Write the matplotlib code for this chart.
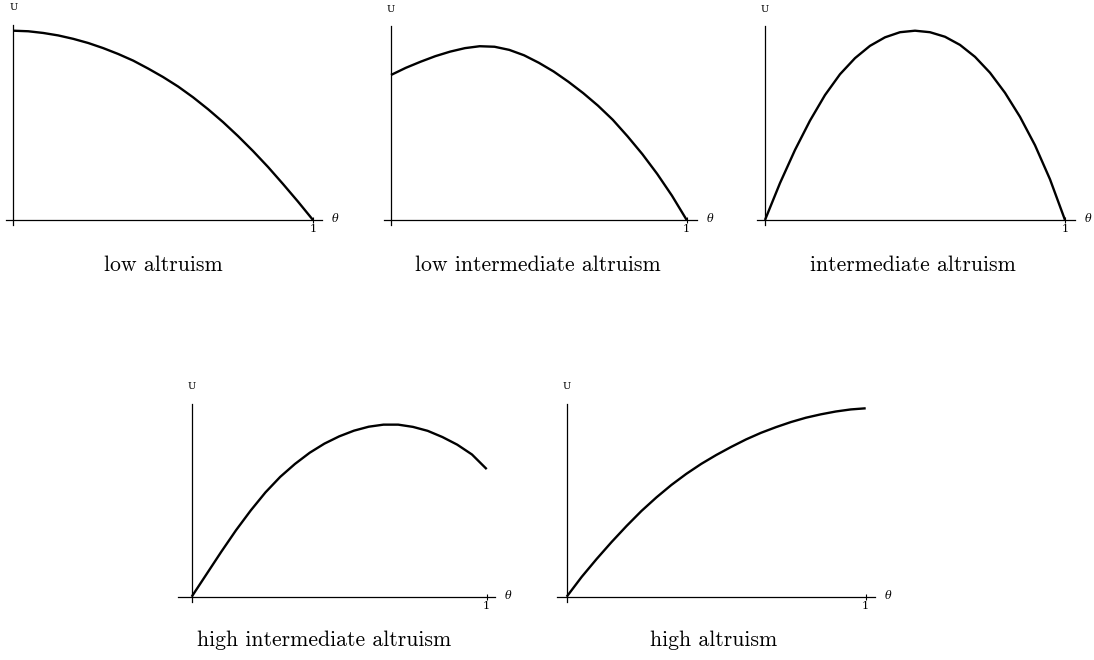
import matplotlib
matplotlib.use("Agg")
import matplotlib.pyplot as plt

# ---- data (theta, U) ----
theta = [0.0, 0.05, 0.10, 0.15, 0.20, 0.25, 0.30, 0.35, 0.40, 0.45, 0.50,
         0.55, 0.60, 0.65, 0.70, 0.75, 0.80, 0.85, 0.90, 0.95, 1.0]

u_low = [1.0, 0.997, 0.988, 0.975, 0.957, 0.935, 0.908, 0.877, 0.842, 0.80, 0.755,
         0.705, 0.648, 0.585, 0.517, 0.443, 0.364, 0.28, 0.19, 0.097, 0.0]

u_lowint = [0.832, 0.873, 0.908, 0.940, 0.966, 0.986, 0.997, 0.994, 0.976, 0.945, 0.902,
            0.852, 0.793, 0.728, 0.656, 0.575, 0.480, 0.378, 0.265, 0.14, 0.0]

u_int = [0.0, 0.195, 0.37, 0.525, 0.66, 0.77, 0.855, 0.92, 0.965, 0.992, 1.0,
         0.992, 0.968, 0.925, 0.862, 0.778, 0.672, 0.545, 0.395, 0.215, 0.0]

u_highint = [0.0, 0.13, 0.26, 0.385, 0.50, 0.605, 0.695, 0.77, 0.835, 0.888, 0.93,
             0.963, 0.986, 0.998, 0.998, 0.985, 0.962, 0.926, 0.882, 0.825, 0.74]

u_high = [0.0, 0.105, 0.20, 0.29, 0.375, 0.455, 0.527, 0.593, 0.652, 0.705, 0.752,
          0.795, 0.835, 0.87, 0.90, 0.927, 0.95, 0.968, 0.983, 0.994, 1.0]

captions = ["low altruism", "low intermediate altruism", "intermediate altruism",
            "high intermediate altruism", "high altruism"]

W, H = 1094, 660
fig = plt.figure(figsize=(W / 100, H / 100), dpi=100)

# layout in pixels: (x of theta=0, x of theta=1, y of U=0, px per U unit,
#                    x-axis left, x-axis right, y-axis top, y-axis bottom, caption center x, caption y)
layouts = [
    (13.3, 313.0, 220.0, 189.3, 6, 322, 25, 225, 163, 265),
    (391.0, 686.7, 220.0, 174.3, 384, 697, 26, 225, 538, 265),
    (765.0, 1065.0, 220.0, 189.3, 757, 1075, 26, 225, 913, 265),
    (191.7, 486.7, 596.7, 172.4, 178, 495, 404, 602, 324, 640),
    (566.7, 865.7, 596.7, 188.4, 557, 875, 404, 602, 714, 640),
]
series = [u_low, u_lowint, u_int, u_highint, u_high]

for (x0, x1, y0, upx, xl, xr, yt, yb, cx, cy), u, cap in zip(layouts, series, captions):
    tpx = x1 - x0
    ax = fig.add_axes([xl / W, 1 - yb / H, (xr - xl) / W, (yb - yt) / H])
    ax.set_xlim((xl - x0) / tpx, (xr - x0) / tpx)
    ax.set_ylim((y0 - yb) / upx, (y0 - yt) / upx)
    ax.plot(theta, u, color="black", lw=1.7, solid_capstyle="butt",
            solid_joinstyle="round", clip_on=False, antialiased=True)
    for s in ["top", "right"]:
        ax.spines[s].set_visible(False)
    ax.spines["left"].set_position(("data", 0))
    ax.spines["bottom"].set_position(("data", 0))
    for s in ["left", "bottom"]:
        ax.spines[s].set_linewidth(0.9)
    ax.set_yticks([])
    ax.set_xticks([1])
    ax.set_xticklabels(["1"], fontsize=8, family="DejaVu Serif")
    ax.tick_params(axis="x", direction="inout", length=4, width=0.8, pad=1)
    ax.patch.set_alpha(0)
    # axis labels
    fig.text((xr + 13) / W, 1 - (y0 - 1) / H, "θ", fontsize=8, family="DejaVu Serif",
             style="italic", ha="center", va="center")
    fig.text(x0 / W, 1 - (yt - 17) / H, "U", fontsize=7, family="DejaVu Serif",
             ha="center", va="center")
    fig.text(cx / W, 1 - cy / H, cap, fontsize=15.7, family="cmr10",
             ha="center", va="center")

fig.savefig("out.png", dpi=100, facecolor="white")
